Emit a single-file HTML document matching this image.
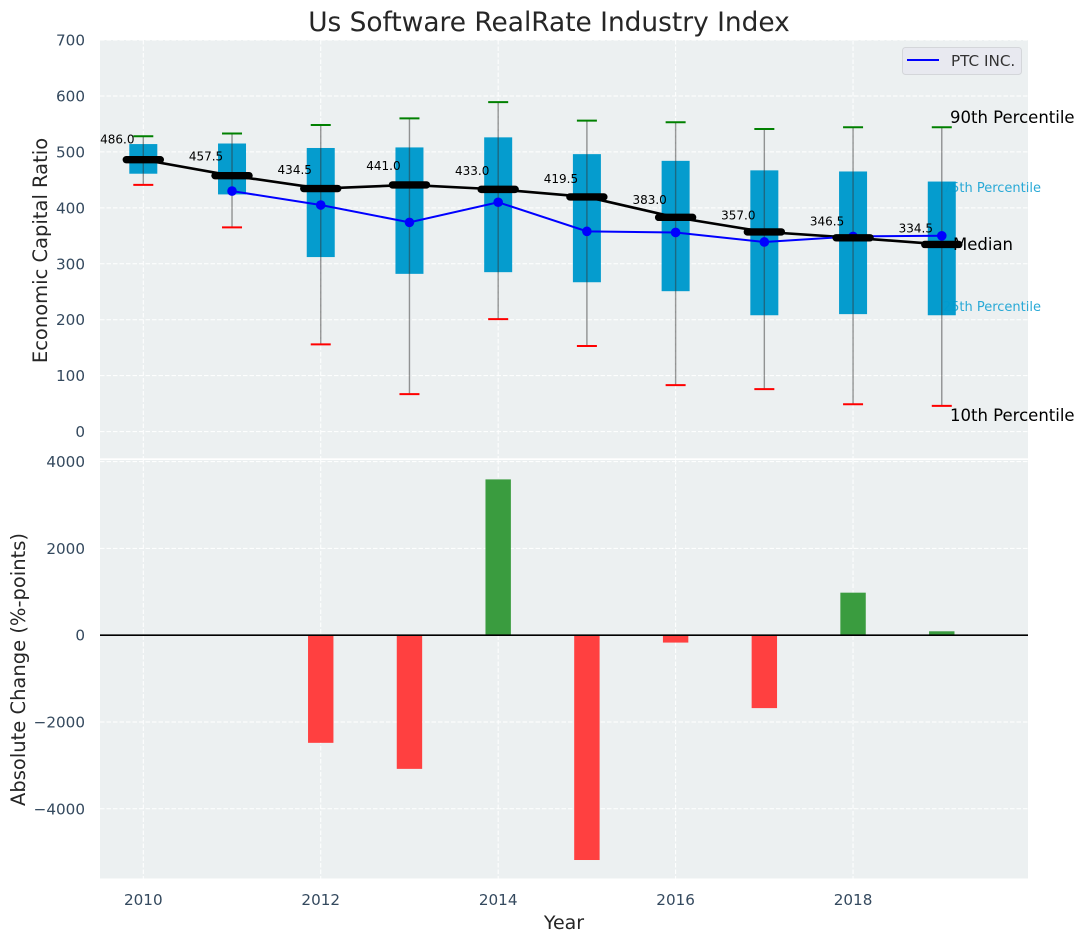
<!DOCTYPE html>
<html lang="en">
<head>
<meta charset="utf-8">
<title>Us Software RealRate Industry Index</title>
<style>
  html, body { margin: 0; padding: 0; background: #ffffff; }
  #chart { display: block; font-family: "DejaVu Sans", "Liberation Sans", sans-serif; }
</style>
</head>
<body>
<svg id="chart" xmlns="http://www.w3.org/2000/svg" width="1085" height="942" viewBox="0 0 1085 942">
  <text x="549" y="31" text-anchor="middle" font-size="26.4" fill="#262626">Us Software RealRate Industry Index</text>
  <rect x="100" y="40" width="928" height="418.3" fill="#ecf0f1"/>
  <rect x="100" y="460" width="928" height="418.5" fill="#ecf0f1"/>
  <g id="grid-layer"></g>
  <text x="1041" y="192" text-anchor="end" font-size="13" fill="#29a9d6">75th Percentile</text>
  <text x="1041" y="311" text-anchor="end" font-size="13" fill="#29a9d6">25th Percentile</text>
  <g id="marks-layer"></g>
  <text x="950" y="123" font-size="16.5" fill="#000000">90th Percentile</text>
  <text x="953" y="250" font-size="16.5" fill="#000000">Median</text>
  <text x="950" y="421" font-size="16.5" fill="#000000">10th Percentile</text>
  <g>
    <rect x="902.5" y="47.5" width="119" height="27" rx="3" fill="#e8e9f0" stroke="#d4d6da" stroke-width="1"/>
    <line x1="907" y1="60" x2="939" y2="60" stroke="#0000ff" stroke-width="2"/>
    <text x="951" y="66" font-size="15.2" fill="#333333">PTC INC.</text>
  </g>
  <text transform="translate(47 250.5) rotate(-90)" text-anchor="middle" font-size="19.5" fill="#262626">Economic Capital Ratio</text>
  <text transform="translate(25 669.5) rotate(-90)" text-anchor="middle" font-size="19.5" fill="#262626">Absolute Change (%-points)</text>
  <text x="564" y="929" text-anchor="middle" font-size="19" fill="#262626">Year</text>
</svg>
<script>
const years = [2010, 2011, 2012, 2013, 2014, 2015, 2016, 2017, 2018, 2019];
const medians = [486.0, 457.5, 434.5, 441.0, 433.0, 419.5, 383.0, 357.0, 346.5, 334.5];
const p75 = [514, 515, 507, 508, 526, 496, 484, 467, 465, 447];
const p25 = [461, 424, 312, 282, 285, 267, 251, 208, 210, 208];
const p90 = [528, 533, 548, 560, 589, 556, 553, 541, 544, 544];
const p10 = [441, 365, 156, 67, 201, 153, 83, 76, 49, 46];
const ptcYears = [2011, 2012, 2013, 2014, 2015, 2016, 2017, 2018, 2019];
const ptcValues = [430, 405, 374, 410, 358, 356, 339, 349, 350];
const changeYears = [2012, 2013, 2014, 2015, 2016, 2017, 2018, 2019];
const changeValues = [-2480, -3080, 3590, -5180, -170, -1680, 980, 90];
const xTicks = [2010, 2012, 2014, 2016, 2018];
const topTicks = [0, 100, 200, 300, 400, 500, 600, 700];
const bottomTicks = [4000, 2000, 0, -2000, -4000];

const NS = 'http://www.w3.org/2000/svg';
const svg = document.getElementById('chart');
const grid = document.getElementById('grid-layer');
const marks = document.getElementById('marks-layer');

function xScale(year) { return 143.3 + (year - 2010) * 88.72; }
function yTop(v) { return 431.6 - v * 0.5594; }
function yBottom(v) { return 635.2 - v * 0.0434; }

function shape(parent, tag, props) {
  const el = document.createElementNS(NS, tag);
  for (const k in props) el.setAttribute(k, props[k]);
  parent.appendChild(el);
  return el;
}
function pointsOf(xs, ys) {
  return xs.map(function (x, i) { return x + ',' + ys[i]; }).join(' ');
}
const dash = { stroke: '#ffffff', 'stroke-width': 1, 'stroke-dasharray': '4.5 2' };

/* gridlines */
xTicks.forEach(function (t) {
  [[40, 458.3], [460, 878.5]].forEach(function (range) {
    const g = shape(grid, 'line', Object.assign({ x1: xScale(t), x2: xScale(t), y1: range[0], y2: range[1] }, dash));
    
    
  });
});
topTicks.forEach(function (t) {
  const g = shape(grid, 'line', Object.assign({ x1: 100, x2: 1028, y1: yTop(t), y2: yTop(t) }, dash));
  
  
  const label = shape(svg, 'text', { x: 85, y: yTop(t) + 5.5, 'text-anchor': 'end', 'font-size': 15.2, fill: '#34495e' });
  label.textContent = String(t);
  
  
});
bottomTicks.forEach(function (t) {
  const g = shape(grid, 'line', Object.assign({ x1: 100, x2: 1028, y1: yBottom(t), y2: yBottom(t) }, dash));
  
  
  const label = shape(svg, 'text', { x: 85, y: yBottom(t) + 5.5, 'text-anchor': 'end', 'font-size': 15.2, fill: '#34495e' });
  label.textContent = String(t).replace('-', '\u2212');
  
  
});
xTicks.forEach(function (t) {
  const label = shape(svg, 'text', { x: xScale(t), y: 905, 'text-anchor': 'middle', 'font-size': 15.2, fill: '#34495e' });
  label.textContent = String(t);
  
  
});

/* percentile boxes, whiskers and caps */
years.forEach(function (year, i) {
  const x = xScale(year);
  const box = shape(marks, 'rect', { x: x - 14, y: yTop(p75[i]), width: 28, height: yTop(p25[i]) - yTop(p75[i]), fill: '#009acd', 'fill-opacity': 0.98 });
  
  
  const whisker = shape(marks, 'line', { x1: x, x2: x, y1: yTop(p90[i]), y2: yTop(p10[i]), stroke: '#333333', 'stroke-opacity': 0.5, 'stroke-width': 1.4 });
  
  
  const capHigh = shape(marks, 'line', { x1: x - 10, x2: x + 10, y1: yTop(p90[i]), y2: yTop(p90[i]), stroke: '#008000', 'stroke-width': 2 });
  
  
  const capLow = shape(marks, 'line', { x1: x - 10, x2: x + 10, y1: yTop(p10[i]), y2: yTop(p10[i]), stroke: '#ff0000', 'stroke-width': 2 });
  
  
});

/* median trend line */
const medianLine = shape(marks, 'polyline', { points: pointsOf(years.map(xScale), medians.map(yTop)), fill: 'none', stroke: '#000000', 'stroke-width': 2.6 });



/* PTC series */
const ptcLine = shape(marks, 'polyline', { points: pointsOf(ptcYears.map(xScale), ptcValues.map(yTop)), fill: 'none', stroke: '#0000ff', 'stroke-width': 2 });


ptcYears.forEach(function (year, i) {
  const dot = shape(marks, 'circle', { cx: xScale(year), cy: yTop(ptcValues[i]), r: 4.8, fill: '#0000ff' });
  
  
});

/* median bars and printed values */
years.forEach(function (year, i) {
  const x = xScale(year);
  const y = yTop(medians[i]);
  const bar = shape(marks, 'line', { x1: x - 17, x2: x + 17, y1: y, y2: y, stroke: '#000000', 'stroke-width': 7.4, 'stroke-linecap': 'round' });
  
  
  const value = shape(marks, 'text', { x: x - 26, y: yTop(medians[i] * 1.05) - 2.4, 'text-anchor': 'middle', 'font-size': 12, fill: '#000000' });
  value.textContent = medians[i].toFixed(1);
  
  
});

/* absolute change bars */
changeYears.forEach(function (year, i) {
  const v = changeValues[i];
  const top = Math.min(yBottom(v), yBottom(0));
  const bar = shape(marks, 'rect', { x: xScale(year) - 12.7, y: top, width: 25.4, height: Math.abs(yBottom(v) - yBottom(0)), fill: v >= 0 ? '#3a9c3f' : '#ff4040' });
  
  
});
const zeroLine = shape(marks, 'line', { x1: 100, x2: 1028, y1: yBottom(0), y2: yBottom(0), stroke: '#000000', 'stroke-width': 1.6 });


</script>
</body>
</html>
